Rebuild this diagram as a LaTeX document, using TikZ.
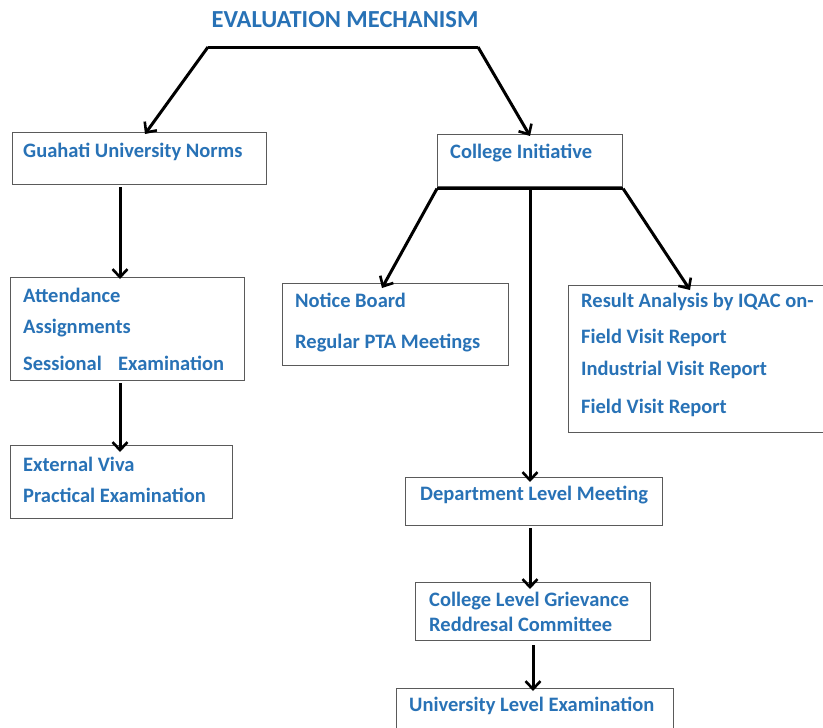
\documentclass[tikz,border=0pt]{standalone}
\usepackage{fontspec}
\setmainfont{Carlito}
\usetikzlibrary{arrows.meta}
\definecolor{txtblue}{RGB}{40,114,182}
\definecolor{boxgray}{RGB}{90,90,90}
\tikzset{
  box/.style={draw=boxgray, line width=1.1pt, fill=white, anchor=north west, inner sep=0pt},
  lbl/.style={anchor=west, text=txtblue, font=\fontsize{20.5}{23}\selectfont\bfseries, inner sep=0pt},
  conn/.style={line width=3pt, black},
  arr/.style={conn, -{Straight Barb[length=8pt, width=15pt, line width=2.6pt]}},
}
\begin{document}
\begin{tikzpicture}[x=1pt, y=-1pt]
\useasboundingbox (0,0) rectangle (823,728);
% title
\node[lbl, anchor=center, font=\fontsize{24.5}{28}\selectfont\bfseries] (title) at (345,20) {EVALUATION MECHANISM};
\coordinate (tl) at (208,47);
\coordinate (tr) at (478,47);
% boxes
\node[box, minimum width=254pt, minimum height=52pt] (gu) at (12,132) {};
\node[lbl] (gut) at (23,152) {Guahati University Norms};
\node[box, minimum width=185pt, minimum height=52pt] (ci) at (437,134) {};
\node[lbl] (cit) at (450,153) {College Initiative};
\node[box, minimum width=234pt, minimum height=103pt] (att) at (10,277) {};
\node[lbl] (att1) at (23,295) {Attendance};
\node[lbl] (att2) at (23,328) {Assignments};
\node[lbl] (att3) at (23,363) {Sessional\hspace{0.8em}Examination};
\node[box, minimum width=222pt, minimum height=73pt] (ev) at (10,445) {};
\node[lbl] (ev1) at (23,464) {External Viva};
\node[lbl] (ev2) at (23,495) {Practical Examination};
\node[box, minimum width=226pt, minimum height=82pt] (nb) at (282,283) {};
\node[lbl] (nb1) at (295,300) {Notice Board};
\node[lbl] (nb2) at (295,343) {Regular PTA Meetings};
\node[box, minimum width=260pt, minimum height=147pt] (ra) at (568,285) {};
\node[lbl] (ra1) at (581,302) {Result Analysis by IQAC on-};
\node[lbl] (ra2) at (581,338) {Field Visit Report};
\node[lbl] (ra3) at (581,370) {Industrial Visit Report};
\node[lbl] (ra4) at (581,408) {Field Visit Report};
\node[box, minimum width=257pt, minimum height=48pt] (dl) at (405,477) {};
\node[lbl] (dlt) at (420,495) {Department Level Meeting};
\node[box, minimum width=235pt, minimum height=58pt] (cg) at (415,582) {};
\node[lbl] (cg1) at (429,601) {College Level Grievance};
\node[lbl] (cg2) at (429,624) {Reddresal Committee};
\node[box, minimum width=277pt, minimum height=50pt] (ul) at (396,688) {};
\node[lbl] (ult) at (409,706) {University Level Examination};
% connectors
\draw[conn] (tl) -- (tr);
\draw[arr] (tl) -- ([xshift=133pt,yshift=-2pt]gu.north west);
\draw[arr] (tr) -- ([xshift=93pt,yshift=-2pt]ci.north west);
\draw[conn] ([yshift=-1.5pt]ci.south west) -- ([yshift=-1.5pt]ci.south east);
\draw[arr] ([yshift=-1.5pt]ci.south west) -- ([xshift=100pt,yshift=-5pt]nb.north west);
\draw[arr] ([xshift=93pt,yshift=-1.5pt]ci.south west) -- ([xshift=125pt,yshift=-5pt]dl.north west);
\draw[arr] ([yshift=-1.5pt]ci.south east) -- ([xshift=122pt,yshift=-5pt]ra.north west);
\draw[arr] ([xshift=108pt,yshift=-2pt]gu.south west) -- ([xshift=110pt,yshift=-2pt]att.north west);
\draw[arr] ([xshift=110pt,yshift=-2pt]att.south west) -- ([xshift=110pt,yshift=-7pt]ev.north west);
\draw[arr] ([xshift=125pt,yshift=-2pt]dl.south west) -- ([xshift=115pt,yshift=-7pt]cg.north west);
\draw[arr] ([xshift=118pt,yshift=-4pt]cg.south west) -- ([xshift=137pt,yshift=-3pt]ul.north west);
\end{tikzpicture}
\end{document}
